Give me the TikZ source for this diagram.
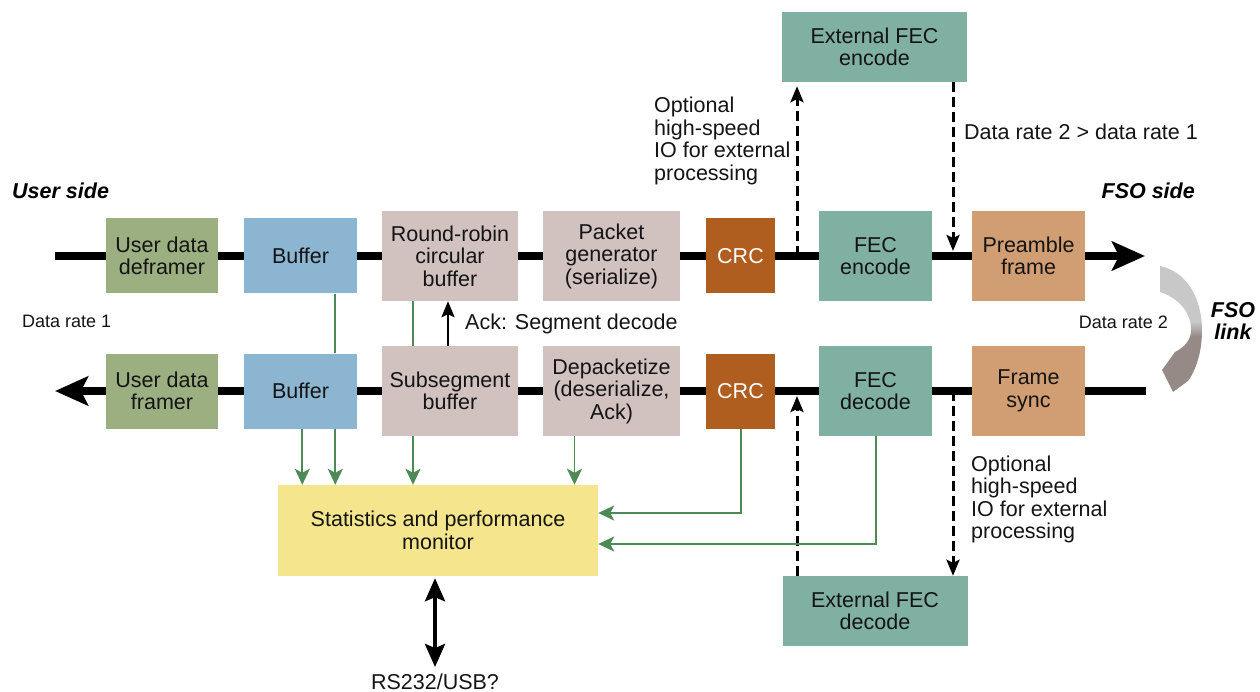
\documentclass[tikz,border=0pt]{standalone}
\usepackage{fontspec}
\setmainfont{Liberation Sans}
\usetikzlibrary{arrows.meta}
\definecolor{cUser}{HTML}{9BAF80}
\definecolor{cBuf}{HTML}{8BB5D1}
\definecolor{cPink}{HTML}{D1C2C0}
\definecolor{cCRC}{HTML}{B05E20}
\definecolor{cFEC}{HTML}{7FB0A1}
\definecolor{cPre}{HTML}{D19D72}
\definecolor{cStat}{HTML}{F5E68E}
\definecolor{cGreen}{HTML}{4E8A55}
\definecolor{cGrayA}{HTML}{C8C8C8}
\definecolor{cGrayB}{HTML}{968A86}
\definecolor{cText}{HTML}{141414}
\newcommand\mainfnt{\fontsize{21.5}{22.5}\selectfont}
\newcommand\smallfnt{\fontsize{18}{21}\selectfont}
\begin{document}
\begin{tikzpicture}[x=1pt,y=-1pt,
  box/.style={inner sep=0pt, align=center, font=\mainfnt, text=cText},
  userbox/.style={box, fill=cUser, minimum width=112pt, minimum height=75pt},
  bufbox/.style={box, fill=cBuf, minimum width=113pt, minimum height=75pt},
  pinkbox/.style={box, fill=cPink, minimum width=136pt, minimum height=90pt},
  crcbox/.style={box, fill=cCRC, minimum width=69pt, minimum height=75pt, text=white},
  fecbox/.style={box, fill=cFEC, minimum width=113pt, minimum height=90pt},
  prebox/.style={box, fill=cPre, minimum width=113pt, minimum height=90pt},
  extbox/.style={box, fill=cFEC, minimum width=185pt, minimum height=70pt},
  lbl/.style={inner sep=0pt, font=\mainfnt, text=cText},
  slbl/.style={inner sep=0pt, font=\smallfnt, text=cText},
  ttl/.style={inner sep=0pt, font=\mainfnt\bfseries\itshape, text=black},
  mainline/.style={line width=8.5pt, black},
  bigtip/.style={-{Stealth[length=33pt,width=29pt,inset=7pt]}},
  dline/.style={line width=3pt, black, dash pattern=on 10pt off 5pt,
     -{Stealth[length=16pt,width=13pt,inset=3pt]}},
  gline/.style={line width=1.9pt, cGreen},
  garrow/.style={gline, -{Stealth[length=16pt,width=15pt,inset=4pt]}},
  ackarrow/.style={line width=2.4pt, black, -{Stealth[length=16pt,width=13pt,inset=3pt]}},
  rsarrow/.style={line width=4pt, black,
     {Stealth[length=23pt,width=20pt,inset=4pt]}-{Stealth[length=23pt,width=20pt,inset=4pt]}}
]
\useasboundingbox (0,0) rectangle (1260,692);

% top row
\node[userbox] (udd) at (162,256) {User data\\deframer};
\node[bufbox] (buf1) at (300.5,256) {Buffer};
\node[pinkbox] (rr) at (450,256) {Round-robin\\circular\\buffer};
\node[pinkbox, minimum width=137pt] (pg) at (611.5,256) {Packet\\generator\\(serialize)};
\node[crcbox] (crc1) at (740.5,256) {CRC};
\node[fecbox] (fec1) at (875.5,256) {FEC\\encode};
\node[prebox] (pre) at (1028.5,256) {Preamble\\frame};

% bottom row
\node[userbox] (udf) at (162,391) {User data\\framer};
\node[bufbox] (buf2) at (300.5,391) {Buffer};
\node[pinkbox] (ssb) at (450,391) {Subsegment\\buffer};
\node[pinkbox, minimum width=137pt] (dep) at (611.5,391) {Depacketize\\(deserialize,\\Ack)};
\node[crcbox] (crc2) at (740.5,391) {CRC};
\node[fecbox] (fec2) at (875.5,391) {FEC\\decode};
\node[prebox] (fs) at (1028.5,391) {Frame\\sync};

% external and stats
\node[extbox] (ext1) at (874.5,47) {External FEC\\encode};
\node[extbox] (ext2) at (875,611) {External FEC\\decode};
\node[box, fill=cStat, minimum width=320pt, minimum height=91pt] (stats) at (438,530.5) {Statistics and performance\\monitor};

% main lines
\coordinate (inT) at (55,256);
\coordinate (outT) at (1145,256);
\draw[mainline] (inT) -- (udd);
\draw[mainline] (udd) -- (buf1);
\draw[mainline] (buf1) -- (rr);
\draw[mainline] (rr) -- (pg);
\draw[mainline] (pg) -- (crc1);
\draw[mainline] (crc1) -- (fec1);
\draw[mainline] (fec1) -- (pre);
\draw[mainline, bigtip] (pre) -- (outT);

\coordinate (inB) at (1146,391);
\coordinate (outB) at (55,391);
\draw[mainline] (inB) -- (fs);
\draw[mainline] (fs) -- (fec2);
\draw[mainline] (fec2) -- (crc2);
\draw[mainline] (crc2) -- (dep);
\draw[mainline] (dep) -- (ssb);
\draw[mainline] (ssb) -- (buf2);
\draw[mainline] (buf2) -- (udf);
\draw[mainline, bigtip] (udf) -- (outB);

% dashed external IO
\coordinate (tapT) at (797,256);
\coordinate (injT) at (953,251);
\coordinate (tapB) at (953,391);
\coordinate (injB) at (797,396);
\draw[dline, shorten >=4pt] (tapT) -- (tapT |- ext1.south);
\draw[dline] (injT |- ext1.south) -- (injT);
\draw[dline] (tapB) -- (tapB |- ext2.north);
\draw[dline] (injB |- ext2.north) -- (injB);

% green monitor lines
\draw[gline] ([xshift=34.8pt]buf1.south) -- ([xshift=34.8pt]buf2.north);
\draw[gline] ([xshift=-37pt]rr.south) -- ([xshift=-37pt]ssb.north);
\draw[garrow] ([xshift=1.8pt]buf2.south) -- ([xshift=1.8pt]buf2.south |- stats.north);
\draw[garrow] ([xshift=34.8pt]buf2.south) -- ([xshift=34.8pt]buf2.south |- stats.north);
\draw[garrow] ([xshift=-37pt]ssb.south) -- ([xshift=-37pt]ssb.south |- stats.north);
\draw[garrow] ([xshift=-37pt]dep.south) -- ([xshift=-37pt]dep.south |- stats.north);
\draw[garrow] ([xshift=0.5pt]crc2.south) |- ([yshift=17.5pt]stats.east);
\draw[garrow] ([xshift=0.5pt]fec2.south) |- ([yshift=-13.5pt]stats.east);

% ack
\draw[ackarrow] ([xshift=-2pt]ssb.north) -- ([xshift=-2pt]rr.south);

% RS232
\coordinate (rs) at (435,667);
\draw[rsarrow, shorten >=2pt] (rs) -- (rs |- stats.south);
\node[lbl, anchor=base] (rslbl) at (435,689) {RS232/USB?};

% labels
\node[ttl, anchor=base west] (userside) at (12,199) {User side};
\node[ttl, anchor=base east] (fsoside) at (1195,199) {FSO side};
\node[ttl, align=center, anchor=base] (fsolink) at (1233,340) {FSO\\link};
\node[slbl, anchor=base west] (dr1) at (22,327) {Data rate 1};
\node[slbl, anchor=base east] (dr2) at (1168,328) {Data rate 2};
\node[lbl, anchor=base west] (ack) at (465,330) {Ack: Segment decode};
\node[lbl, align=left, anchor=base west] (opt1) at (654,180.5) {Optional\\high-speed\\IO for external\\processing};
\node[lbl, align=left, anchor=base west] (opt2) at (971,538.5) {Optional\\high-speed\\IO for external\\processing};
\node[lbl, anchor=base west] (dr21) at (964,140) {Data rate 2 > data rate 1};

% FSO link curved arrow
\begin{scope}
\clip (1160,266) .. controls (1188,272) and (1202,300) .. (1202,330)
  .. controls (1202,352) and (1196,370) .. (1188,381) -- (1173,392) -- (1162,370)
  -- (1175,352) .. controls (1185,347) and (1190,340) .. (1191,332)
  .. controls (1192,312) and (1178,298) .. (1160,292) -- cycle;
\fill[cGrayA] (1150,255) rectangle (1215,322);
\shade[top color=cGrayA, bottom color=cGrayB] (1150,321.5) rectangle (1215,336.5);
\fill[cGrayB] (1150,336) rectangle (1215,400);
\end{scope}
\end{tikzpicture}
\end{document}
